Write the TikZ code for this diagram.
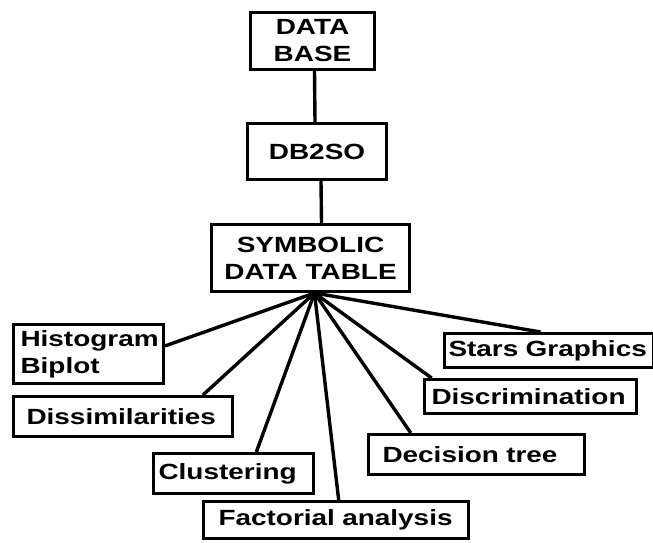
\documentclass[tikz,border=0pt]{standalone}
\usepackage{fontspec}
\newfontfamily\boxfont[FakeStretch=1.27]{Liberation Sans Bold}
\usetikzlibrary{calc}
\tikzset{
  box/.style={draw, line width=3pt, inner ysep=0pt, align=left,
    font=\fontsize{22}{27}\boxfont, anchor=north west},
  link/.style={line width=3.4pt}
}
\begin{document}
\begin{tikzpicture}[x=1pt,y=-1pt]
      \useasboundingbox (0,0) rectangle (653,542);
      \node[box, align=center, minimum width=124, minimum height=57] (db) at (249,11) {DATA\\BASE};
      \node[box, align=center, minimum width=139, minimum height=56] (db2so) at (246,122) {DB2SO};
      \node[box, align=center, minimum width=198, minimum height=67] (sym) at (210,223) {SYMBOLIC\\DATA TABLE};
      \node[box, minimum width=150, minimum height=59, inner xsep=7, text width=136] (hist) at (12,323) {Histogram\\Biplot};
      \node[box, minimum width=219, minimum height=40, inner xsep=13, text width=193] (dis) at (12,395) {Dissimilarities};
      \node[box, minimum width=160, minimum height=40, inner xsep=5, text width=150] (clu) at (152,452) {Clustering};
      \node[box, minimum width=265, minimum height=37, inner xsep=15, text width=235] (fac) at (202,500) {Factorial analysis};
      \node[box, minimum width=216, minimum height=40, inner xsep=14, text width=188] (dec) at (367,433) {Decision tree};
      \node[box, minimum width=212, minimum height=34, inner xsep=7, text width=198] (disc) at (423,378) {Discrimination};
      \node[box, minimum width=209, minimum height=34, inner xsep=4, text width=201] (stars) at (443,332) {Stars Graphics};
      \coordinate (hub) at ($(sym.south)+(4,0)$);
      \begin{scope}[link]
        \draw ($(db.south)+(2,0)$) to ($(db2so.north)+(-2,0)$);
        \draw ($(db2so.south)+(4,0)$) to ($(sym.north)+(11,0)$);
        \draw (hub) to ($(hist.north east)!0.37!(hist.south east)$);
        \draw (hub) to ($(dis.north west)!0.86!(dis.north east)$);
        \draw (hub) to ($(clu.north west)!0.64!(clu.north east)$);
        \draw (hub) to ($(fac.north west)!0.51!(fac.north east)$);
        \draw (hub) to ($(dec.north west)!0.2!(dec.north east)$);
        \draw (hub) to ($(disc.north west)!0.04!(disc.north east)$);
        \draw (hub) to ($(stars.north west)!0.46!(stars.north east)$);
      \end{scope}
    \end{tikzpicture}
\end{document}
